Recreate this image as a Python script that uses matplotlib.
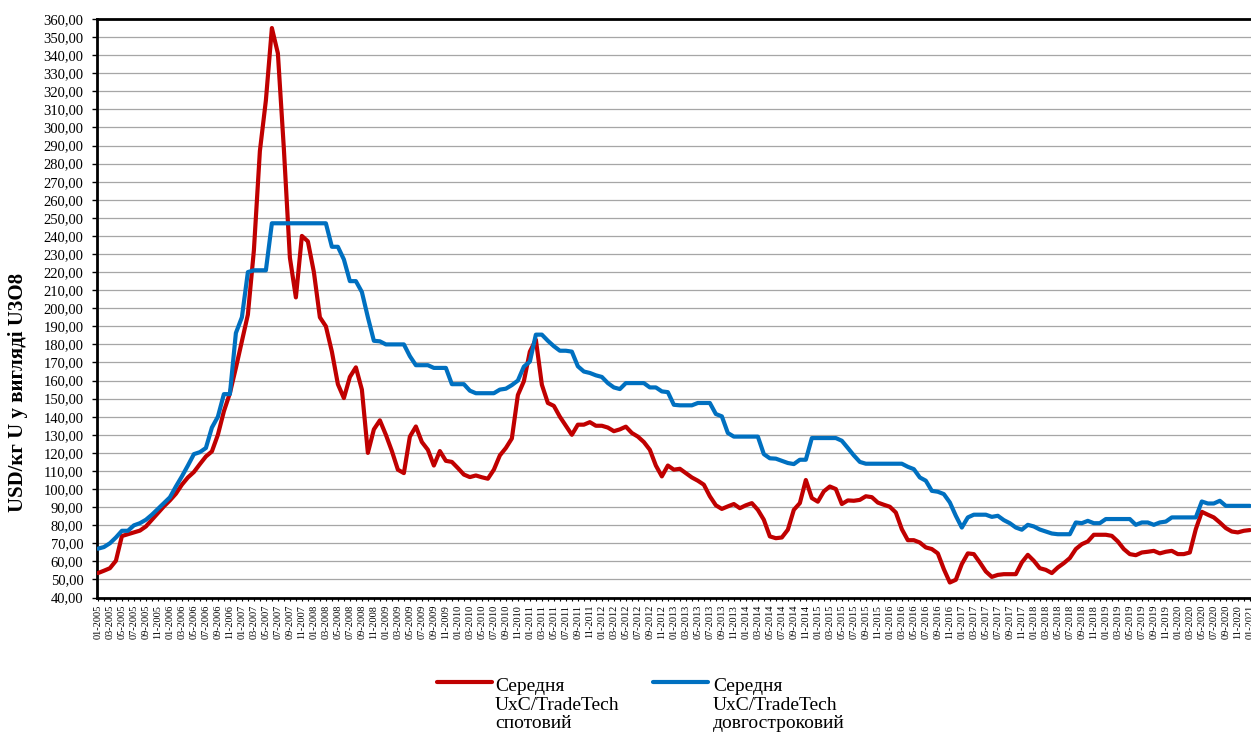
import matplotlib
matplotlib.use('Agg')
import matplotlib.pyplot as plt
from matplotlib.lines import Line2D

plt.rcParams['font.family'] = ['Liberation Serif', 'DejaVu Serif']

# Monthly labels 01-2005 ... 01-2021
months = [f"{m:02d}-{y}" for y in range(2005, 2022) for m in range(1, 13)][:193]

# Average UxC/TradeTech spot price, USD/kgU as U3O8
spot = [
    53.5, 54.8, 56.2, 60.3, 74.0, 75.0, 76.0, 77.0, 79.3, 83.0, 86.7, 90.4,
    93.7, 97.4, 102.4, 106.4, 109.4, 113.8, 118.0, 120.8, 130.0, 143.0, 153.0, 167.0,
    181.7, 196.5, 232.0, 287.0, 315.0, 355.0, 341.0, 288.0, 228.0, 206.0, 240.0, 237.0,
    220.0, 195.0, 190.0, 176.0, 158.0, 150.3, 162.0, 167.3, 155.0, 120.0, 133.0, 138.0,
    130.0, 121.0, 110.7, 108.8, 129.0, 134.6, 126.0, 121.7, 113.0, 121.0, 115.6, 115.0,
    111.6, 108.0, 106.6, 107.5, 106.5, 105.7, 110.7, 118.6, 122.7, 128.0, 152.0, 159.6,
    176.0, 182.6, 157.7, 147.6, 146.0, 140.0, 135.0, 130.0, 135.6, 135.6, 137.0, 135.0,
    135.0, 134.0, 132.0, 133.0, 134.5, 131.0, 129.0, 126.0, 121.7, 113.0, 107.0, 113.0,
    110.7, 111.2, 108.8, 106.4, 104.6, 102.4, 96.0, 91.0, 89.0, 90.4, 91.7, 89.4,
    91.0, 92.2, 88.5, 83.0, 73.8, 72.8, 73.2, 77.5, 88.5, 92.2, 105.0, 95.0,
    93.0, 98.7, 101.4, 100.0, 91.7, 93.7, 93.5, 94.0, 96.0, 95.5, 92.5, 91.3,
    90.2, 87.0, 77.8, 71.7, 71.7, 70.4, 67.7, 66.8, 64.4, 55.7, 48.3, 49.8,
    58.5, 64.4, 64.0, 59.4, 54.4, 51.4, 52.5, 52.9, 52.9, 52.9, 59.4, 63.6,
    60.3, 56.2, 55.3, 53.5, 56.6, 59.0, 61.8, 66.8, 69.5, 71.0, 74.7, 74.7,
    74.7, 74.1, 71.0, 66.8, 64.0, 63.4, 64.9, 65.3, 65.8, 64.4, 65.3, 65.8,
    64.0, 64.0, 64.9, 77.8, 87.4, 85.8, 84.3, 81.5, 78.4, 76.5, 76.0, 76.9,
    77.3,
]

# Average UxC/TradeTech long-term price, USD/kgU as U3O8
longterm = [
    67.0, 67.9, 70.0, 73.2, 76.9, 76.9, 79.9, 81.1, 83.0, 85.8, 89.0, 92.2,
    95.4, 101.4, 107.0, 113.0, 119.3, 120.4, 122.7, 134.0, 140.0, 152.5, 152.5, 186.3,
    195.0, 220.0, 221.0, 221.0, 221.0, 247.0, 247.0, 247.0, 247.0, 247.0, 247.0, 247.0,
    247.0, 247.0, 247.0, 234.0, 234.0, 227.0, 215.0, 215.0, 209.0, 195.0, 182.0, 181.7,
    180.0, 180.0, 180.0, 180.0, 173.5, 168.5, 168.5, 168.5, 167.0, 167.0, 167.0, 158.0,
    158.0, 158.0, 154.4, 153.0, 153.0, 153.0, 153.0, 155.0, 155.5, 157.5, 160.0, 167.7,
    170.5, 185.4, 185.4, 182.0, 179.0, 176.5, 176.5, 176.0, 167.9, 165.0, 164.2, 162.9,
    162.0, 158.6, 156.2, 155.3, 158.6, 158.6, 158.6, 158.6, 156.2, 156.2, 154.0, 153.6,
    146.6, 146.3, 146.3, 146.3, 147.6, 147.6, 147.6, 141.5, 140.2, 131.0, 129.0, 129.0,
    129.0, 129.0, 129.0, 119.3, 117.0, 116.8, 115.6, 114.4, 113.8, 116.2, 116.2, 128.2,
    128.2, 128.2, 128.2, 128.2, 126.7, 122.7, 118.6, 115.0, 114.0, 114.0, 114.0, 114.0,
    114.0, 114.0, 114.0, 112.3, 111.0, 106.4, 104.6, 99.0, 98.5, 97.2, 92.6, 85.2,
    78.7, 84.3, 85.8, 85.8, 85.8, 84.6, 85.2, 82.8, 81.1, 78.7, 77.5, 80.2,
    79.3, 77.6, 76.5, 75.4, 75.0, 75.0, 75.0, 81.5, 81.1, 82.4, 81.1, 81.1,
    83.4, 83.4, 83.4, 83.4, 83.4, 80.2, 81.5, 81.5, 80.2, 81.5, 82.0, 84.3,
    84.3, 84.3, 84.3, 84.3, 93.1, 92.0, 92.0, 93.5, 90.7, 90.7, 90.7, 90.7,
    90.7,
]

yticks = list(range(40, 361, 10))
ytick_labels = [f"{v},00" for v in yticks]
ylabel = 'USD/кг U у вигляді U3O8'
legend_spot = 'Середня\nUxC/TradeTech\nспотовий'
legend_long = 'Середня\nUxC/TradeTech\nдовгостроковий'

RED = '#C00000'
BLUE = '#0070C0'
W, H = 1251, 738

fig = plt.figure(figsize=(W / 100, H / 100), dpi=100)
left, right, top, bottom = 96.7, 1251.0, 19.0, 597.5
ax = fig.add_axes([left / W, 1 - bottom / H, (right - left) / W, (bottom - top) / H])

x = list(range(len(months)))
ax.plot(x, spot, color=RED, lw=3.0, solid_joinstyle='round', solid_capstyle='round', zorder=3)
ax.plot(x, longterm, color=BLUE, lw=3.0, solid_joinstyle='round', solid_capstyle='round', zorder=4)

ax.set_ylim(40, 360)
ax.set_yticks(yticks)
ax.set_yticklabels(ytick_labels, fontsize=10.5)
ax.set_xlim(-0.2, 192.2)
ax.set_xticks(x)
ax.set_xticklabels([lab if i % 2 == 0 else '' for i, lab in enumerate(months)],
                   rotation=90, fontsize=7.5, va='top')

ax.yaxis.grid(True, color='#A6A6A6', lw=0.9)
ax.set_axisbelow(True)
for s in ['top', 'left', 'bottom']:
    ax.spines[s].set_linewidth(2.0)
    ax.spines[s].set_color('black')
ax.spines['right'].set_visible(False)
ax.tick_params(axis='y', direction='out', length=3.6, width=1, pad=6)
ax.tick_params(axis='x', direction='out', length=2.2, width=0.8, pad=3)

fig.text(18.5 / W, 1 - 392 / H, ylabel, rotation=90, fontsize=15, fontweight='bold',
         ha='center', va='center')

# Legend (drawn manually to keep handles aligned with first text line)
ly = 1 - 682 / H
fig.add_artist(Line2D([437 / W, 492 / W], [ly, ly], color=RED, lw=3, solid_capstyle='round'))
fig.add_artist(Line2D([653 / W, 708 / W], [ly, ly], color=BLUE, lw=3, solid_capstyle='round'))
fig.text(495 / W, 1 - 705 / H, legend_spot, fontsize=14, ha='left', va='center', linespacing=1.15)
fig.text(713 / W, 1 - 705 / H, legend_long, fontsize=14, ha='left', va='center', linespacing=1.15)

fig.savefig('out.png', dpi=100)
